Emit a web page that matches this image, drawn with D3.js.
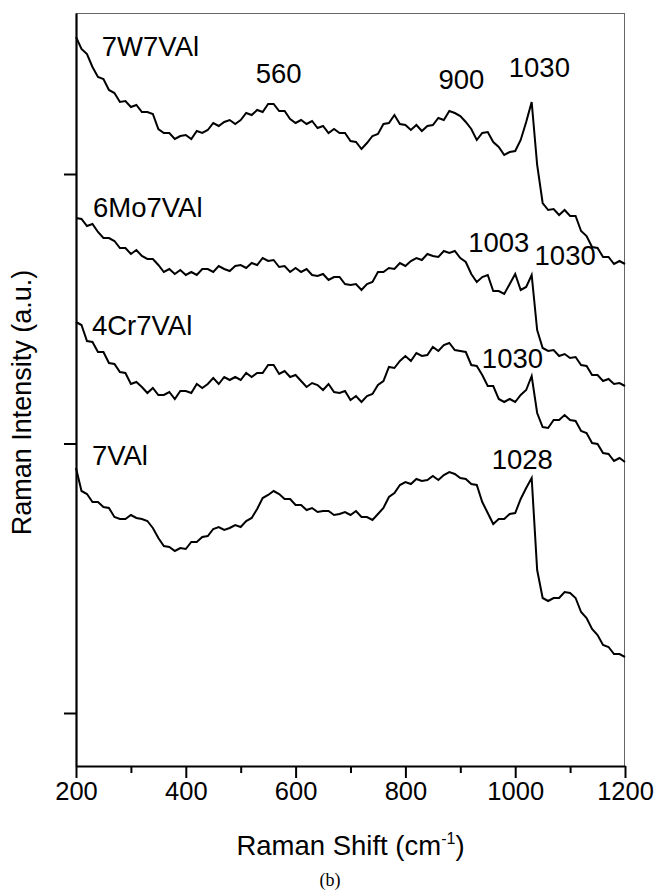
<!DOCTYPE html>
<html>
<head>
<meta charset="utf-8">
<script src="https://cdn.jsdelivr.net/npm/d3@7"></script>
<style>
  html, body { margin: 0; padding: 0; background: #fff; }
  svg { display: block; }
  text { font-family: "Liberation Sans", Arial, sans-serif; fill: #000; }
</style>
</head>
<body>
<svg id="chart" width="654" height="891"></svg>
<script>
// Raman shift grid (cm-1), 200..1200 step 10
const shifts = d3.range(200, 1201, 10);

// Intensities (a.u., stacked offsets as drawn)
const w7v = [963,951,946,933,923,921,910,907,898,899, 893,895,888,888,886,871,867,867,861,864,
  865,861,869,867,870,877,874,878,880,876, 880,887,885,890,888,896,896,889,889,881,
  877,880,876,879,872,874,867,871,867,867, 859,858,851,857,864,866,876,877,885,876,
  875,870,875,869,874,875,882,880,889,887, 884,878,871,860,867,868,858,853,845,848,
  849,860,878,898,835,797,790,791,785,790, 784,784,769,764,753,752,743,743,736,739,736];

const mo6 = [782,781,774,776,768,762,762,759,752,752, 746,750,744,741,741,735,728,731,726,730,
  725,728,725,731,731,728,734,731,729,734, 735,732,737,735,742,739,740,733,734,728,
  732,728,731,725,724,726,720,723,723,716, 715,716,710,716,718,728,728,732,731,737,
  734,739,742,740,746,744,743,749,747,749, 742,738,726,718,723,725,709,709,706,716,
  726,710,713,725,670,652,649,650,644,646, 642,643,635,634,625,625,619,621,616,617,614];

const cr4 = [678,675,659,658,648,648,637,636,628,627, 616,618,613,607,612,605,605,608,601,609,
  609,607,616,612,616,622,616,623,620,623, 620,627,623,627,627,635,635,626,629,623,
  625,619,613,617,615,610,616,608,607,609, 600,604,598,604,606,615,619,633,632,639,
  644,639,647,644,645,653,649,655,657,650, 649,648,635,634,625,614,614,601,598,601,
  598,605,610,624,587,573,572,580,580,585, 580,579,569,567,557,556,547,546,539,542,538];

const v7 = [532,509,506,498,498,493,492,483,481,481, 485,482,481,479,472,462,454,453,449,452,
  451,458,458,463,464,471,473,470,472,475, 473,479,482,491,502,505,509,506,501,501,
  495,495,490,492,488,489,489,485,486,488, 485,489,483,483,480,486,492,503,507,515,
  518,516,521,519,520,524,520,525,528,526, 522,521,516,515,498,487,476,481,481,486,
  487,501,512,522,430,402,399,402,402,408, 407,402,388,382,371,365,355,353,346,346,343];

const seriesNames = ["7W7VAl", "6Mo7VAl", "4Cr7VAl", "7VAl"];
const seriesValues = [w7v, mo6, cr4, v7];

// Peak annotations: text, shift, intensity, anchor
const annText   = ["7W7VAl","560","900","1030","6Mo7VAl","1003","1030","4Cr7VAl","1030","7VAl","1028"];
const annShift  = [247, 569, 902, 1044, 231, 970, 1091, 229, 995, 229, 1013];
const annInt    = [944, 917, 911, 923, 783, 748, 735, 665, 632, 535, 531];
const annAnchor = ["start","middle","middle","middle","start","middle","middle","start","middle","start","middle"];

const xMajor = [200, 400, 600, 800, 1000, 1200];
const xMinor = [300, 500, 700, 900, 1100];
const yTicks = [287, 556.5, 826];
const xDomain = [200, 1200];
const yDomain = [234, 987];

const svg = d3.select("#chart");
const m = { left: 76, top: 13, right: 29, bottom: 125 };
const W = 654 - m.left - m.right;   // 549
const H = 891 - m.top - m.bottom;   // 753

const x = d3.scaleLinear().domain(xDomain).range([m.left, m.left + W]);
const y = d3.scaleLinear().domain(yDomain).range([m.top + H, m.top]);

// frame (top/right thin gray)
svg.append("line").attr("x1", m.left).attr("x2", m.left + W).attr("y1", m.top + 0.5).attr("y2", m.top + 0.5)
  .attr("stroke", "#666").attr("stroke-width", 1);
svg.append("line").attr("x1", m.left + W - 0.5).attr("x2", m.left + W - 0.5).attr("y1", m.top).attr("y2", m.top + H)
  .attr("stroke", "#666").attr("stroke-width", 1);

// spectra
const line = d3.line().x((d, i) => x(shifts[i])).y(d => y(d));
seriesValues.forEach((vals, k) => {
  svg.append("path").datum(vals)
    .attr("class", "spectrum s" + k)
    .attr("fill", "none").attr("stroke", "#000")
    .attr("stroke-width", 2).attr("stroke-linejoin", "miter")
    .attr("d", line);
});

// bottom axis: minor ticks
svg.append("g").attr("transform", `translate(0,${m.top + H})`)
  .call(d3.axisBottom(x).tickValues(xMinor).tickSize(7).tickFormat(""))
  .call(g => g.select(".domain").remove())
  .call(g => g.selectAll("line").attr("stroke", "#000").attr("stroke-width", 2));
// bottom axis: major ticks + labels
svg.append("g").attr("transform", `translate(0,${m.top + H})`)
  .call(d3.axisBottom(x).tickValues(xMajor).tickSize(12).tickPadding(4).tickSizeOuter(0).tickFormat(d3.format("d")))
  .call(g => g.select(".domain").attr("stroke", "#000").attr("stroke-width", 2.2))
  .call(g => g.selectAll("line").attr("stroke", "#000").attr("stroke-width", 2))
  .call(g => g.selectAll("text").attr("font-size", 25.5).attr("font-family", "Liberation Sans, Arial, sans-serif").attr("fill", "#000"));

// left axis
svg.append("g").attr("transform", `translate(${m.left},0)`)
  .call(d3.axisLeft(y).tickValues(yTicks).tickSize(12).tickSizeOuter(0).tickFormat(""))
  .call(g => g.select(".domain").attr("stroke", "#000").attr("stroke-width", 2.2))
  .call(g => g.selectAll("line").attr("stroke", "#000").attr("stroke-width", 2));

// annotations
annText.forEach((t, i) => {
  svg.append("text").attr("x", x(annShift[i])).attr("y", y(annInt[i]))
    .attr("text-anchor", annAnchor[i]).attr("font-size", 27.5).text(t);
});

// axis titles
const xt = svg.append("text").attr("x", m.left + W / 2).attr("y", 855)
  .attr("text-anchor", "middle").attr("font-size", 27.5);
xt.append("tspan").text("Raman Shift (cm");
xt.append("tspan").attr("font-size", 16).attr("dy", -11).text("-1");
xt.append("tspan").attr("dy", 11).text(")");

svg.append("text").attr("transform", `translate(31,${m.top + H / 2 + 13}) rotate(-90)`)
  .attr("text-anchor", "middle").attr("font-size", 27).text("Raman Intensity (a.u.)");

svg.append("text").attr("x", 330).attr("y", 886).attr("text-anchor", "middle")
  .attr("font-size", 18).style("font-family", "'Liberation Serif', 'Times New Roman', serif").text("(b)");
</script>
</body>
</html>
